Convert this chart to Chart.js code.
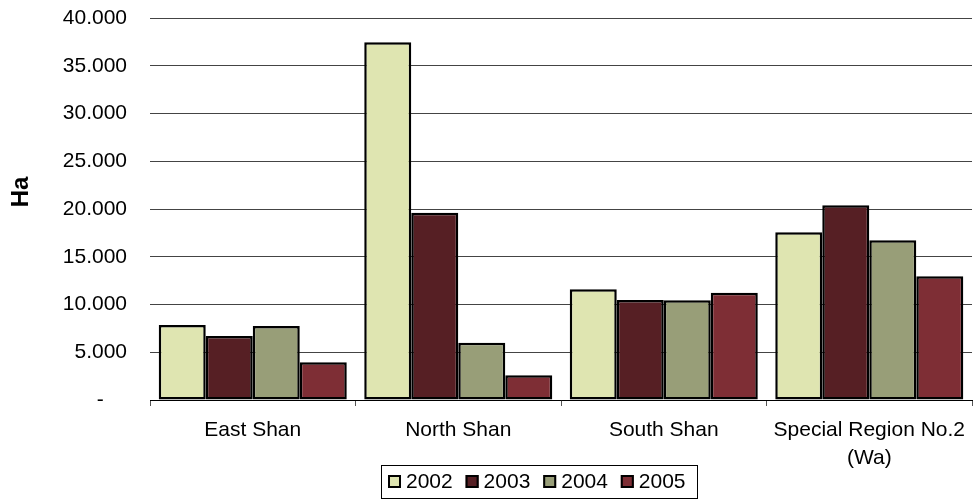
<!DOCTYPE html>
<html>
<head>
<meta charset="utf-8">
<script src="https://cdn.jsdelivr.net/npm/chart.js@4/dist/chart.umd.min.js"></script>
<style>
  html, body { margin: 0; padding: 0; background: #fff; }
  #wrap { width: 975px; height: 500px; position: relative; }
</style>
</head>
<body>
<div id="wrap"><canvas id="c" width="975" height="500"></canvas></div>
<script>
const categories = ["East Shan", "North Shan", "South Shan", ["Special Region No.2", "(Wa)"]];
const seriesNames = ["2002", "2003", "2004", "2005"];
const v2002 = [7850, 37450, 11590, 17560];
const v2003 = [6700, 19610, 10470, 20380];
const v2004 = [7750, 6000, 10450, 16720];
const v2005 = [3950, 2590, 11230, 12950];
const yTicks = [0, 5000, 10000, 15000, 20000, 25000, 30000, 35000, 40000];
const yTitle = "Ha";

const colors = ["#DFE5B1", "#561F24", "#989E78", "#7E2E35"];
const FONT = "'Liberation Sans', Arial, Helvetica, sans-serif";

function fmt(v) {
  if (v === 0) return "-    ";
  return String(v).replace(/\B(?=(\d{3})+(?!\d))/g, ".");
}

const seriesValues = [v2002, v2003, v2004, v2005];
const datasets = seriesNames.map((n, i) => ({
  label: n,
  data: seriesValues[i],
  backgroundColor: colors[i],
  borderColor: "#000",
  borderWidth: 2.5,
  borderSkipped: false,
  categoryPercentage: 0.915,
  barPercentage: 1.0
}));

const extras = {
  id: "extras",
  afterDraw(chart) {
    const ctx = chart.ctx;
    ctx.save();
    ctx.font = "bold 24px " + FONT;
    ctx.fillStyle = "#000";
    ctx.textAlign = "center";
    ctx.textBaseline = "middle";
    ctx.translate(21.5, 192);
    ctx.rotate(-Math.PI / 2);
    ctx.fillText(yTitle, 0, 0);
    ctx.restore();

    ctx.save();
    const bx = 381.5, by = 465.5, bw = 316, bh = 33;
    ctx.strokeStyle = "#000";
    ctx.lineWidth = 1;
    ctx.strokeRect(bx, by, bw, bh);
    ctx.font = "21px " + FONT;
    ctx.textAlign = "left";
    ctx.textBaseline = "middle";
    chart.data.datasets.forEach((ds, i) => {
      const sx = 388 + i * 77.6;
      const sy = 475;
      ctx.fillStyle = ds.backgroundColor;
      ctx.fillRect(sx, sy, 13, 13);
      ctx.lineWidth = 2;
      ctx.strokeStyle = "#000";
      ctx.strokeRect(sx + 1, sy + 1, 11, 11);
      ctx.fillStyle = "#000";
      ctx.fillText(ds.label, sx + 18, sy + 7.5);
    });
    ctx.restore();
  }
};

new Chart(document.getElementById("c"), {
  type: "bar",
  data: { labels: categories, datasets },
  plugins: [extras],
  options: {
    responsive: false,
    animation: false,
    layout: { padding: { top: 18, left: 0, right: 0, bottom: 0 } },
    plugins: {
      legend: { display: false },
      tooltip: { enabled: false }
    },
    scales: {
      x: {
        grid: {
          offset: true,
          drawOnChartArea: false,
          drawTicks: true,
          tickLength: 6,
          color: "#555"
        },
        border: { display: true, color: "#000", width: 1 },
        ticks: {
          color: "#000",
          font: { family: FONT, size: 21, lineHeight: 1.33 },
          padding: 10,
          maxRotation: 0,
          autoSkip: false
        },
        afterFit(scale) { scale.height = 100; }
      },
      y: {
        min: 0,
        max: 40000,
        afterBuildTicks(scale) { scale.ticks = yTicks.map(v => ({ value: v })); },
        grid: { color: "#444", drawTicks: true, tickLength: 20, tickColor: "rgba(0,0,0,0)", lineWidth: 1 },
        border: { display: false },
        ticks: {
          color: "#000",
          font: { family: FONT, size: 21 },
          padding: 3,
          callback: (v) => fmt(v)
        },
        afterFit(scale) { scale.width = 150; }
      }
    }
  }
});
</script>
</body>
</html>
